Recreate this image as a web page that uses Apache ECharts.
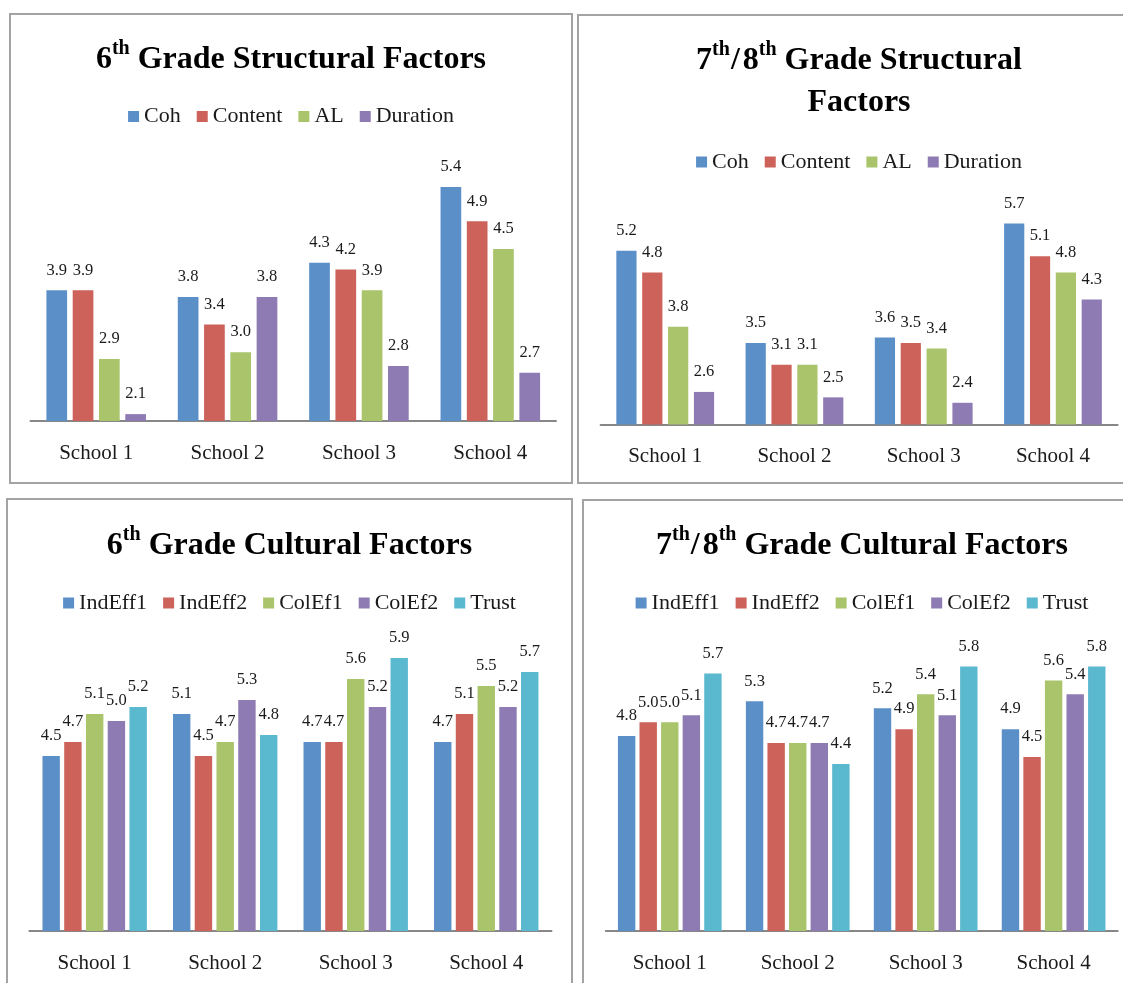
<!DOCTYPE html>
<html>
<head>
<meta charset="utf-8">
<script src="https://cdn.jsdelivr.net/npm/echarts@6/dist/echarts.min.js"></script>
<style>
  html, body { margin: 0; padding: 0; background: #fff; width: 1123px; height: 983px; overflow: hidden; }
  .panel { position: absolute; box-sizing: border-box; border: 2px solid #a3a3a3; background: #fff; }
</style>
</head>
<body>
<div id="p1" class="panel" style="left:9px;top:13px;width:564px;height:471px"></div>
<div id="p2" class="panel" style="left:577px;top:14px;width:564px;height:470px"></div>
<div id="p3" class="panel" style="left:6px;top:498px;width:567px;height:500px"></div>
<div id="p4" class="panel" style="left:582px;top:499px;width:560px;height:500px"></div>
<script>
// ---- Data ----
const categories = ['School 1', 'School 2', 'School 3', 'School 4'];
const structuralNames = ['Coh', 'Content', 'AL', 'Duration'];
const culturalNames = ['IndEff1', 'IndEff2', 'ColEf1', 'ColEf2', 'Trust'];

// 6th Grade Structural Factors
const g6Coh = [3.9, 3.8, 4.3, 5.4];
const g6Content = [3.9, 3.4, 4.2, 4.9];
const g6AL = [2.9, 3.0, 3.9, 4.5];
const g6Duration = [2.1, 3.8, 2.8, 2.7];

// 7th/8th Grade Structural Factors
const g78Coh = [5.2, 3.5, 3.6, 5.7];
const g78Content = [4.8, 3.1, 3.5, 5.1];
const g78AL = [3.8, 3.1, 3.4, 4.8];
const g78Duration = [2.6, 2.5, 2.4, 4.3];

// 6th Grade Cultural Factors
const g6IndEff1 = [4.5, 5.1, 4.7, 4.7];
const g6IndEff2 = [4.7, 4.5, 4.7, 5.1];
const g6ColEf1 = [5.1, 4.7, 5.6, 5.5];
const g6ColEf2 = [5.0, 5.3, 5.2, 5.2];
const g6Trust = [5.2, 4.8, 5.9, 5.7];

// 7th/8th Grade Cultural Factors
const g78IndEff1 = [4.8, 5.3, 5.2, 4.9];
const g78IndEff2 = [5.0, 4.7, 4.9, 4.5];
const g78ColEf1 = [5.0, 4.7, 5.4, 5.6];
const g78ColEf2 = [5.1, 4.7, 5.1, 5.4];
const g78Trust = [5.7, 4.4, 5.8, 5.8];

// ---- Styling ----
const colors = ['#5b8fc8', '#cc6259', '#a9c46b', '#8f7bb3', '#5ab8cf'];
const FONT = '"Liberation Serif", "Times New Roman", serif';
const TXT = '#1a1a1a';

function titleRich() {
  return {
    b: { fontFamily: FONT, fontWeight: 'bold', fontSize: 32, lineHeight: 42, color: '#000' },
    sl: { fontFamily: FONT, fontWeight: 'bold', fontSize: 32, lineHeight: 42, color: '#000', padding: [0, 3, 0, 1] },
    s: { fontFamily: FONT, fontWeight: 'bold', fontSize: 20, lineHeight: 28, color: '#000', verticalAlign: 'top' }
  };
}

function makeOption(cfg) {
  return {
    animation: false,
    backgroundColor: '#fff',
    color: colors,
    title: {
      text: cfg.title,
      left: 'center',
      top: cfg.titleTop,
      padding: 0,
      textStyle: { rich: titleRich() }
    },
    legend: {
      data: cfg.names,
      top: cfg.legendTop,
      left: 'center',
      padding: 0,
      icon: 'rect',
      itemWidth: 11,
      itemHeight: 11,
      itemGap: 16,
      textStyle: { fontFamily: FONT, fontSize: 22, color: TXT }
    },
    grid: { left: cfg.grid[0], top: cfg.grid[1], right: cfg.grid[2], height: cfg.grid[3], containLabel: false },
    xAxis: {
      type: 'category',
      data: categories,
      axisLine: { onZero: false, lineStyle: { color: '#878787', width: 2 } },
      axisTick: { show: false },
      axisLabel: { fontFamily: FONT, fontSize: 21, color: TXT, margin: 21.5 },
      splitLine: { show: false }
    },
    yAxis: { type: 'value', min: 2, max: 6, show: false, splitLine: { show: false } },
    series: cfg.names.map((n, i) => ({
      name: n,
      type: 'bar',
      data: cfg.values[i],
      barWidth: cfg.barWidth,
      barGap: cfg.barGap,
      clip: true,
      itemStyle: { color: colors[i] },
      label: {
        show: true,
        position: 'top',
        distance: 11.5,
        fontFamily: FONT,
        fontSize: 16.5,
        color: TXT,
        formatter: p => Number(p.value).toFixed(1)
      }
    }))
  };
}

const panels = [
  {
    id: 'p1',
    title: '{b|6}{s|th}{b| Grade Structural Factors}',
    titleTop: 24,
    legendTop: 90.5,
    names: structuralNames,
    values: [g6Coh, g6Content, g6AL, g6Duration],
    grid: [19.5, 130.6, 15, 275.4],
    barWidth: 20.7,
    barGap: '27%'
  },
  {
    id: 'p2',
    title: '{b|7}{s|th}{sl|/}{b|8}{s|th}{b| Grade Structural}\n{b|Factors}',
    titleTop: 24,
    legendTop: 135,
    names: structuralNames,
    values: [g78Coh, g78Content, g78AL, g78Duration],
    grid: [21.6, 191.3, 21.4, 217.2],
    barWidth: 20.2,
    barGap: '28%'
  },
  {
    id: 'p3',
    title: '{b|6}{s|th}{b| Grade Cultural Factors}',
    titleTop: 24.5,
    legendTop: 92,
    names: culturalNames,
    values: [g6IndEff1, g6IndEff2, g6ColEf1, g6ColEf2, g6Trust],
    grid: [21.4, 151, 19.5, 280],
    barWidth: 17.4,
    barGap: '25%'
  },
  {
    id: 'p4',
    title: '{b|7}{s|th}{sl|/}{b|8}{s|th}{b| Grade Cultural Factors}',
    titleTop: 24,
    legendTop: 91,
    names: culturalNames,
    values: [g78IndEff1, g78IndEff2, g78ColEf1, g78ColEf2, g78Trust],
    grid: [21.8, 151.6, 22.4, 278.4],
    barWidth: 17.4,
    barGap: '24%'
  }
];

panels.forEach(p => {
  const chart = echarts.init(document.getElementById(p.id), null, { renderer: 'canvas' });
  chart.setOption(makeOption(p));
});
</script>
</body>
</html>
